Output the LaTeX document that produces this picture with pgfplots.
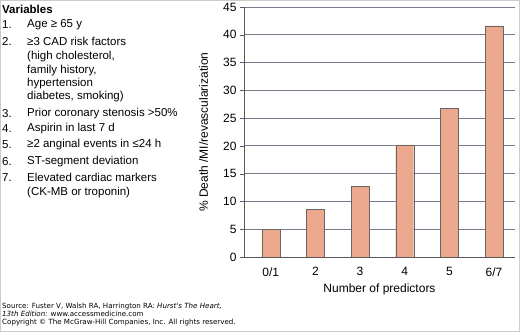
\documentclass[border=0pt]{standalone}
\usepackage{pgfplots}
\pgfplotsset{compat=1.18}
\usepackage{fontspec}
\setmainfont{Liberation Sans}
\newfontfamily\footfont{DejaVu Sans}
\definecolor{barfill}{RGB}{236,168,140}
\definecolor{gridc}{RGB}{125,118,140}
\begin{document}
\begin{tikzpicture}[x=1pt,y=1pt]
\path[use as bounding box] (0,0) rectangle (520,332);
\draw[black!20] (0.5,0.5) rectangle (519.5,331.5);
\begin{axis}[
  at={(244pt,75pt)}, anchor=south west,
  scale only axis, width=271pt, height=250pt,
  xmin=-0.6, xmax=5.47, ymin=0, ymax=45,
  ytick={0,5,...,45},
  xtick={0,...,5}, xticklabels={0/1,2,3,4,5,6/7},
  axis x line=bottom, axis y line=left,
  axis line style={-, draw=black!65, line width=0.8pt},
  ymajorgrids, grid style={gridc, line width=0.9pt},
  xtick style={draw=none},
  ytick style={draw=black!65},
  tick align=outside, major tick length=4pt,
  /pgf/number format/assume math mode=true,
  tick label style={font=\fontsize{12}{14}\selectfont},
  xticklabel style={yshift=-3pt},
  label style={font=\fontsize{12}{14}\selectfont},
  ylabel={\% Death /MI/revascularization},
  xlabel={Number of predictors},
  ylabel style={at={(axis description cs:-0.12,0.5)}},
  xlabel style={yshift=-1pt},
]
\addplot[ybar, bar width=18pt, fill=barfill, draw=black!60] coordinates {
  (0,5.0) (1,8.6) (2,12.7) (3,20.2) (4,26.8) (5,41.6)
};
\end{axis}
\begin{scope}[every node/.style={anchor=west, inner sep=0pt, font=\fontsize{11.5}{13}\selectfont}]
\node[font=\fontsize{11.5}{13}\selectfont\bfseries] at (2,322.7) {Variables};
\node at (2,307) {1.};   \node at (27,307) {Age ≥ 65 y};
\node at (2,290.3) {2.}; \node at (27,290.3) {≥3 CAD risk factors};
\node at (27,275.5) {(high cholesterol,};
\node at (27,261.5) {family history,};
\node at (27,248.5) {hypertension};
\node at (27,235.3) {diabetes, smoking)};
\node at (2,218.7) {3.}; \node at (27,218.7) {Prior coronary stenosis >50\%};
\node at (2,203.3) {4.}; \node at (27,203.3) {Aspirin in last 7 d};
\node at (2,187) {5.};   \node at (27,187) {≥2 anginal events in ≤24 h};
\node at (2,170.3) {6.}; \node at (27,170.3) {ST-segment deviation};
\node at (2,154.3) {7.}; \node at (27,154.3) {Elevated cardiac markers};
\node at (27,139.3) {(CK-MB or troponin)};
\end{scope}
\begin{scope}[every node/.style={anchor=west, inner sep=0pt, font=\footfont\fontsize{7.1}{8}\selectfont}]
\node at (2,25) {Source: Fuster V, Walsh RA, Harrington RA: \textit{Hurst's The Heart,}};
\node at (2,18) {\textit{13th Edition:} www.accessmedicine.com};
\node at (2,9.5) {Copyright © The McGraw-Hill Companies, Inc. All rights reserved.};
\end{scope}
\end{tikzpicture}
\end{document}
